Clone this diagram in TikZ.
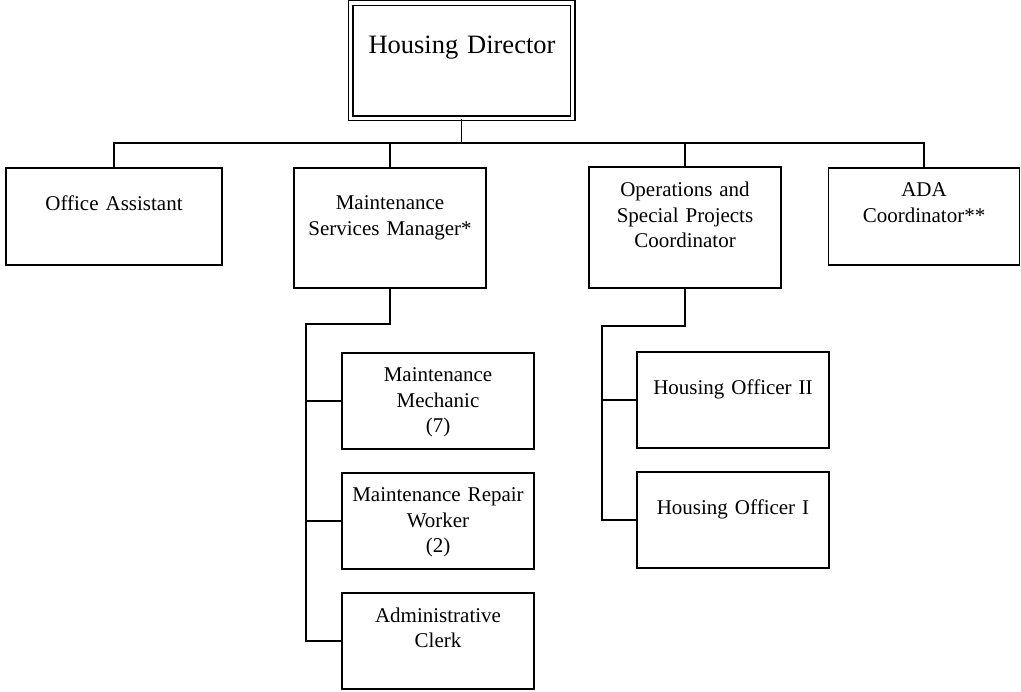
\documentclass[tikz,border=0pt]{standalone}
\usepackage{fontspec}
\setmainfont{Liberation Serif}
\begin{document}
\begin{tikzpicture}[x=1pt,y=-1pt,
  box/.style={draw, line width=1.2pt, rectangle, inner sep=0pt, minimum width=192pt, minimum height=96pt},
  dirbox/.style={draw, line width=1.1pt, double, double distance=3.8pt, rectangle, inner sep=0pt},
  lbl/.style={inner sep=0pt, anchor=base, text width=186pt, align=center, font=\fontsize{21}{25.5}\selectfont},
  conn/.style={line width=1.5pt}]
\useasboundingbox (0,0) rectangle (1021,692);
% boxes
\node[dirbox, minimum width=222pt, minimum height=115.5pt] (dir) at (461.5,60.75) {};
\node[box, minimum width=216pt, minimum height=97pt] (off) at (114,216.5) {};
\node[box, minimum height=120pt] (msm) at (390,228) {};
\node[box, minimum height=121pt] (ops) at (685,227.5) {};
\node[box, minimum width=191pt, minimum height=97pt] (ada) at (924,216.5) {};
\node[box] (mm) at (438,401) {};
\node[box] (mrw) at (438,521) {};
\node[box] (ac) at (438,641) {};
\node[box] (ho2) at (733,400) {};
\node[box] (ho1) at (733,520) {};
% texts
\node[lbl, text width=215pt, font=\fontsize{26.5}{30}\selectfont] (tdir) at (462,54) {Housing Director};
\node[lbl] (toff) at (114,211) {Office Assistant};
\node[lbl] (tmsm) at (390,210) {Maintenance\\Services Manager*};
\node[lbl] (tops) at (685,197) {Operations and\\Special Projects\\Coordinator};
\node[lbl] (tada) at (924,197) {ADA\\Coordinator**};
\node[lbl] (tmm) at (438,382) {Maintenance\\Mechanic\\(7)};
\node[lbl] (tmrw) at (438,502) {Maintenance Repair\\Worker\\(2)};
\node[lbl] (tac) at (438,622) {Administrative\\Clerk};
\node[lbl] (tho2) at (733,395) {Housing Officer II};
\node[lbl] (tho1) at (733,515) {Housing Officer I};
% connectors
\coordinate (bus) at (0,143);
\coordinate (mbus) at (306,324);
\coordinate (obus) at (602,326);
\draw[conn] (dir.south) -- (dir.south |- bus);
\draw[conn] (off.north) -- (off.north |- bus) -- (ada.north |- bus) -- (ada.north);
\draw[conn] (msm.north) -- (msm.north |- bus);
\draw[conn] (ops.north) -- (ops.north |- bus);
\draw[conn] (msm.south) -- (msm.south |- mbus) -- (mbus) |- (ac.west);
\draw[conn] (mm.west) -- (mm.west -| mbus);
\draw[conn] (mrw.west) -- (mrw.west -| mbus);
\draw[conn] (ops.south) -- (ops.south |- obus) -- (obus) |- (ho1.west);
\draw[conn] (ho2.west) -- (ho2.west -| obus);
\end{tikzpicture}
\end{document}
